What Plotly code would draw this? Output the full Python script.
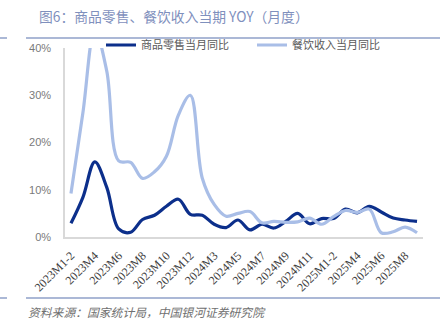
import plotly.graph_objects as go

# Monthly periods (Jan-Feb combined each year)
months = [
    "2023M1-2", "2023M3", "2023M4", "2023M5", "2023M6", "2023M7", "2023M8",
    "2023M9", "2023M10", "2023M11", "2023M12",
    "2024M1-2", "2024M3", "2024M4", "2024M5", "2024M6", "2024M7", "2024M8",
    "2024M9", "2024M10", "2024M11", "2024M12",
    "2025M1-2", "2025M3", "2025M4", "2025M5", "2025M6", "2025M7", "2025M8",
    "2025M9",
]

# Year-on-year growth, %
goods_yoy = [
    2.9, 8.4, 15.9, 10.5, 1.7, 1.0, 3.7, 4.6, 6.5, 8.0, 4.8,
    4.6, 2.7, 2.0, 3.6, 1.5, 2.7, 1.9, 3.3, 5.0, 2.8, 3.9,
    3.9, 5.9, 5.1, 6.5, 5.3, 4.0, 3.6, 3.3,
]
catering_yoy = [
    9.2, 26.3, 43.8, 35.1, 16.1, 15.8, 12.4, 13.8, 17.1, 25.8, 30.0,
    12.5, 6.9, 4.4, 5.0, 5.4, 3.0, 3.3, 3.1, 3.2, 4.0, 2.7,
    4.3, 5.6, 5.2, 5.9, 0.9, 1.1, 2.1, 0.9,
]

series_names = ["商品零售当月同比", "餐饮收入当月同比"]
y_ticks = [0, 10, 20, 30, 40]
y_tick_text = ["0%", "10%", "20%", "30%", "40%"]

DARK = "#0c2f8b"
LIGHT = "#a9bee7"
RULE = "#8fa1c9"

fig = go.Figure()
fig.add_trace(go.Scatter(
    x=months, y=goods_yoy, name=series_names[0], mode="lines",
    line=dict(color=DARK, width=3.2, shape="spline", smoothing=1.0),
))
fig.add_trace(go.Scatter(
    x=months, y=catering_yoy, name=series_names[1], mode="lines",
    line=dict(color=LIGHT, width=3.2, shape="spline", smoothing=1.0),
))

W, H = 447, 327
L, R, T, B = 65, 24, 48, 90
pw, ph = W - L - R, H - T - B


def px_x(px):
    return (px - L) / pw


def px_y(py):
    return 1 - (py - T) / ph


shapes = []
for py in (38, 298):
    shapes.append(dict(type="line", xref="paper", yref="paper",
                       x0=px_x(26), x1=px_x(440), y0=px_y(py), y1=px_y(py),
                       line=dict(color=RULE, width=1.5)))
    shapes.append(dict(type="line", xref="paper", yref="paper",
                       x0=px_x(0), x1=px_x(7), y0=px_y(py), y1=px_y(py),
                       line=dict(color=RULE, width=1.5)))

fig.update_layout(
    width=W, height=H,
    margin=dict(l=L, r=R, t=T, b=B, pad=0),
    paper_bgcolor="white", plot_bgcolor="white",
    font=dict(family="Noto Sans CJK SC", size=11, color="#555555"),
    showlegend=True,
    legend=dict(
        orientation="h", x=px_x(101), xanchor="left",
        y=px_y(45), yanchor="middle",
        font=dict(family="Noto Sans CJK SC", size=11, color="#595959"),
        bgcolor="rgba(0,0,0,0)", itemwidth=30, tracegroupgap=0,
        entrywidth=106, entrywidthmode="pixels",
    ),
    shapes=shapes,
    annotations=[
        dict(text="图6：商品零售、餐饮收入当期 YOY（月度）", xref="paper", yref="paper",
             x=px_x(37), y=px_y(16), xanchor="left", yanchor="middle",
             showarrow=False,
             font=dict(family="Noto Sans CJK SC", size=13.8, color="#7f90bd")),
        dict(text="<i>资料来源：国家统计局，中国银河证券研究院</i>", xref="paper", yref="paper",
             x=px_x(26), y=px_y(311), xanchor="left", yanchor="middle",
             showarrow=False,
             font=dict(family="Noto Sans CJK SC", size=11.8, color="#707070")),
    ],
)

fig.update_xaxes(
    type="category", range=[-0.5, len(months) - 0.5],
    tickvals=months[::2], ticktext=months[::2], tickangle=-45,
    showline=True, linecolor="#d9d9d9", linewidth=1.5,
    showgrid=False, zeroline=False, ticks="", ticklabelstandoff=5,
    tickfont=dict(family="Liberation Serif", size=12, color="#404040"),
)
fig.update_yaxes(
    range=[0, 40], tickvals=y_ticks, ticktext=y_tick_text,
    showline=True, linecolor="#d9d9d9", linewidth=1.5,
    showgrid=False, zeroline=False, ticks="", ticklabelstandoff=10,
    tickfont=dict(family="Liberation Sans", size=11, color="#7a7a7a"),
)

fig.write_html("out.html")
